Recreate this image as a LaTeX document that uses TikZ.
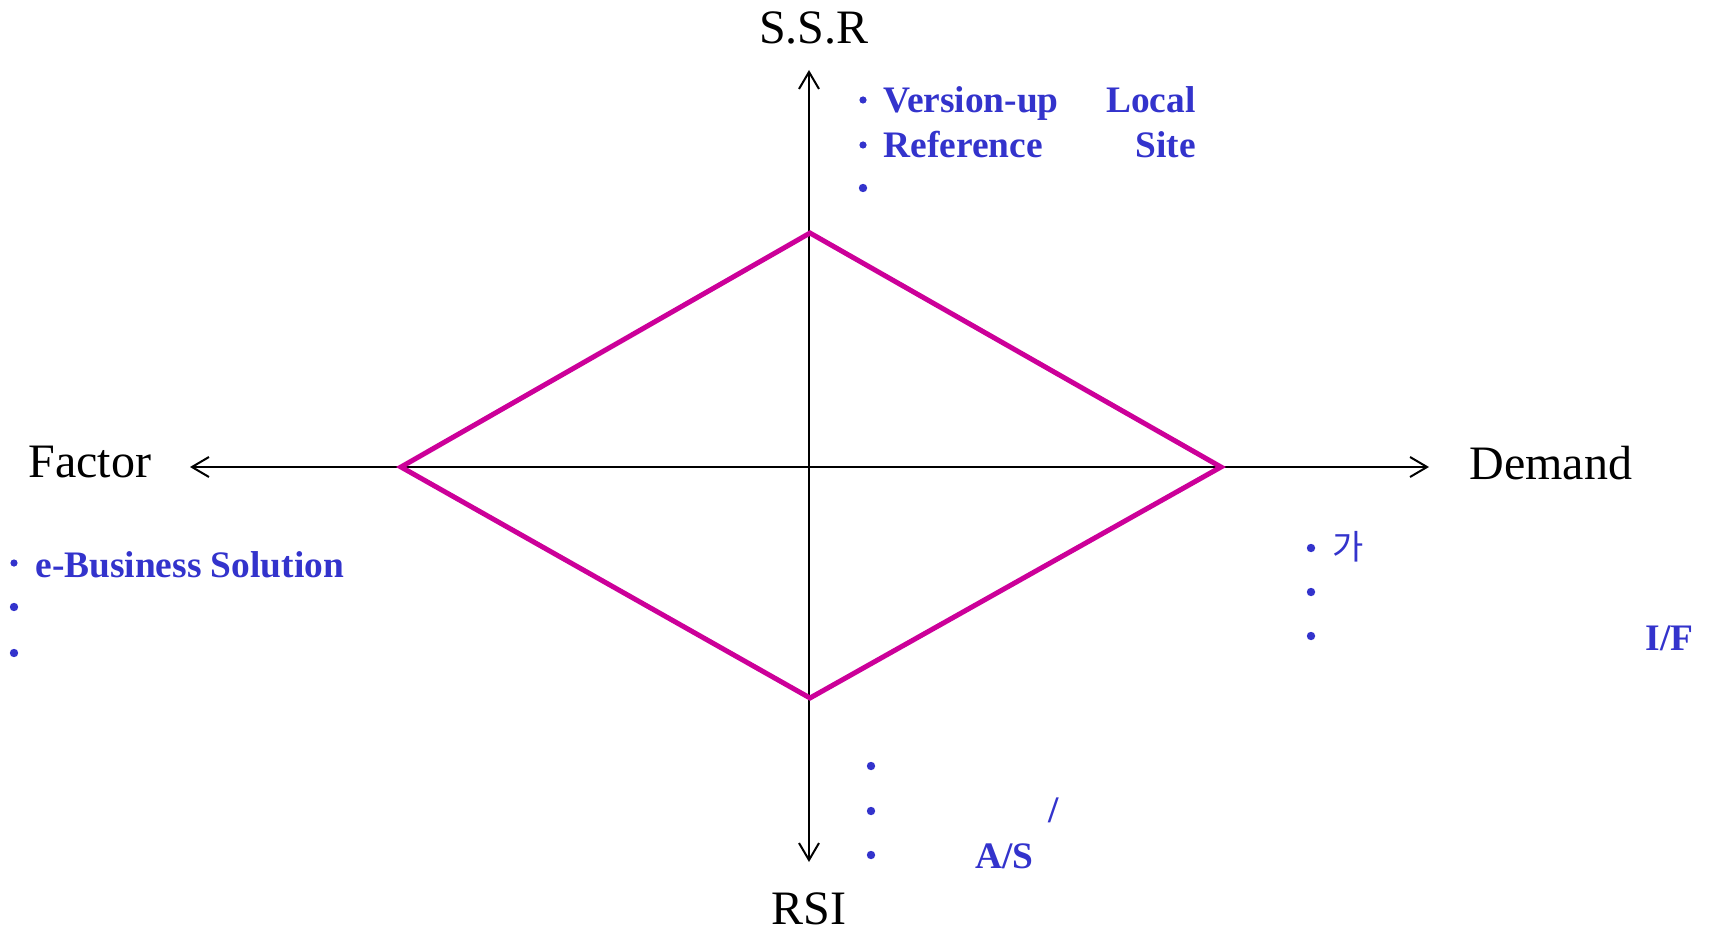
\documentclass[tikz,border=0pt]{standalone}
\usepackage{fontspec}
\setmainfont{Liberation Serif}
\newfontfamily\krfont{Noto Sans CJK KR}
\usetikzlibrary{arrows.meta}
\definecolor{itemblue}{HTML}{3333CC}
\definecolor{diamag}{HTML}{CC0099}
\begin{document}
\begin{tikzpicture}[x=0.5pt,y=-0.5pt,
  axis/.style={line width=1pt, >={Straight Barb[length=8.5pt,width=10pt]}},
  axlabel/.style={inner sep=0, font=\fontsize{24}{28}\selectfont},
  itemtext/.style={inner sep=0, text=itemblue, font=\bfseries\fontsize{18.7}{22}\selectfont},
  krtext/.style={inner sep=0, text=itemblue, font=\krfont\fontsize{17}{20}\selectfont},
  dot/.style={circle, fill=itemblue, inner sep=0, minimum size=3.6pt},
  bigdot/.style={circle, fill=itemblue, inner sep=0, minimum size=4.2pt},
  diamondline/.style={draw=diamag, line width=2.5pt, line join=miter}]
\useasboundingbox (0,0) rectangle (1714,931);

% axes
\coordinate (top) at (809,70);
\coordinate (bottom) at (809,862);
\coordinate (left) at (190,467);
\coordinate (right) at (1429,467);
\draw[axis,<->] (left) -- (right);
\draw[axis,<->] (bottom) -- (top);

% diamond
\coordinate (dtop) at (810,233);
\coordinate (dright) at (1221,467);
\coordinate (dbottom) at (810,698);
\coordinate (dleft) at (401,467);
\draw[diamondline] (dtop) -- (dright) -- (dbottom) -- (dleft) -- cycle;

% axis labels
\node[axlabel, anchor=base] (ssr) at (814,44) {S.S.R};
\node[axlabel, anchor=base west] (factor) at (28,477) {Factor};
\node[axlabel, anchor=base west] (demand) at (1469,479) {Demand};
\node[axlabel, anchor=base west] (rsi) at (771,924) {RSI};

% top group
\node[dot] (t1) at (863,100) {};
\node[dot] (t2) at (863,145) {};
\node[bigdot] (t3) at (863,188) {};
\node[itemtext, anchor=base west] (version) at (883,113) {Version-up};
\node[itemtext, anchor=base east] (local) at (1196,113) {Local};
\node[itemtext, anchor=base west] (reference) at (883,157) {Reference};
\node[itemtext, anchor=base east] (site) at (1196,157) {Site};

% left group
\node[dot] (l1) at (14,563) {};
\node[bigdot] (l2) at (14,607) {};
\node[bigdot] (l3) at (14,653) {};
\node[itemtext, anchor=base west] (ebiz) at (35,577) {e-Business Solution};

% right group
\node[bigdot] (r1) at (1311,548) {};
\node[bigdot] (r2) at (1311,592) {};
\node[bigdot] (r3) at (1311,636) {};
\node[krtext, anchor=base west] (ga) at (1332,559) {가};
\node[itemtext, anchor=base east] (if) at (1694,650) {I/F};

% bottom group
\node[bigdot] (b1) at (871,766) {};
\node[bigdot] (b2) at (871,811) {};
\node[bigdot] (b3) at (871,855) {};
\node[itemtext, anchor=base west] (slash) at (1048,822) {/};
\node[itemtext, anchor=base west] (as) at (975,868) {A/S};
\end{tikzpicture}
\end{document}
